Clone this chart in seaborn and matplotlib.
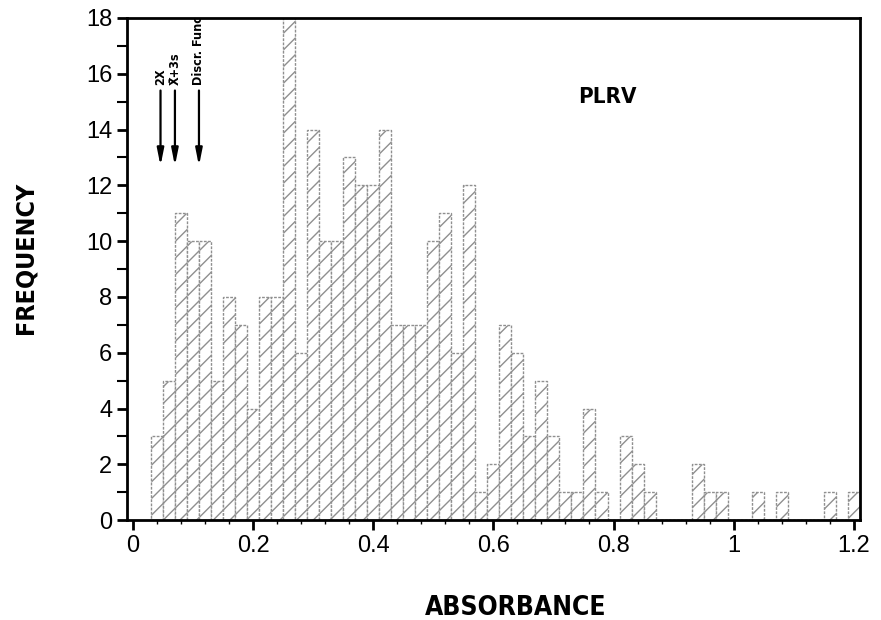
import numpy as np
import pandas as pd
import matplotlib
matplotlib.use("Agg")
import matplotlib.pyplot as plt
import seaborn as sns

# bin centres (absorbance) and counts, bin width 0.02
bin_width = 0.02
centers = np.round(np.arange(0.04, 1.2001, 0.02), 2)
counts = [3, 5, 11, 10, 10, 5, 8, 7, 4, 8,
          8, 18, 6, 14, 10, 10, 13, 12, 12, 14,
          7, 7, 7, 10, 11, 6, 12, 1, 2, 7,
          6, 3, 5, 3, 1, 1, 4, 1, 0, 3,
          2, 1, 0, 0, 0, 2, 1, 1, 0, 0,
          1, 0, 1, 0, 0, 0, 1, 0, 1]

# threshold arrows
arrow_x = [0.046, 0.070, 0.110]
arrow_labels = ["2X", "X\u0304+3s", "Discr. Func."]

df = pd.DataFrame({"absorbance": centers, "freq": counts})

sns.set_style("ticks")
plt.rcParams["font.family"] = ["Liberation Sans", "DejaVu Sans"]
plt.rcParams["text.color"] = "black"
plt.rcParams["axes.labelcolor"] = "black"
plt.rcParams["xtick.color"] = "black"
plt.rcParams["ytick.color"] = "black"

fig = plt.figure(figsize=(8.81, 6.2), dpi=100)
ax = fig.add_axes([0.144, 0.161, 0.832, 0.81])

sns.histplot(data=df, x="absorbance", weights="freq", binwidth=bin_width,
             binrange=(0.03, 1.21), ax=ax,
             color="white", edgecolor="#8f8f8f", linewidth=1.0, alpha=1)
for p in ax.patches:
    p.set_hatch("//")
    p.set_linestyle((0, (2, 1)))

cond = dict(family=["DejaVu Sans"], stretch="condensed", fontweight="bold")

for x, lab in zip(arrow_x, arrow_labels):
    ax.annotate("", xy=(x, 12.6), xytext=(x, 15.5),
                arrowprops=dict(arrowstyle="-|>,head_width=0.2,head_length=1.0",
                                color="black", lw=1.6))
    ax.text(x, 15.6, lab, rotation=90, ha="center", va="bottom",
            fontsize=9, clip_on=True, **cond)

ax.text(0.79, 15.15, "PLRV", ha="center", va="center", fontsize=16, **cond)

ax.set_xlim(-0.01, 1.21)
ax.set_ylim(0, 18)
ax.set_xticks([0, 0.2, 0.4, 0.6, 0.8, 1.0, 1.2])
ax.set_xticklabels(["0", "0.2", "0.4", "0.6", "0.8", "1", "1.2"])
ax.set_xticks(np.arange(0, 1.21, 0.04), minor=True)
ax.set_yticks(np.arange(0, 19, 2))
ax.set_yticks(np.arange(0, 19, 1), minor=True)
ax.tick_params(axis="both", which="major", labelsize=17, length=7, width=2,
               direction="out")
ax.tick_params(axis="x", which="minor", length=3, width=1)
ax.tick_params(axis="y", which="minor", length=7, width=1.5)
for s in ax.spines.values():
    s.set_linewidth(2)
    s.set_color("black")

ax.set_xlabel("ABSORBANCE", fontsize=19, **cond)
ax.set_ylabel("FREQUENCY", fontsize=18, **cond)
ax.xaxis.set_label_coords(0.53, -0.148)
ax.yaxis.set_label_coords(-0.122, 0.522)

fig.savefig("out.png", dpi=100)
